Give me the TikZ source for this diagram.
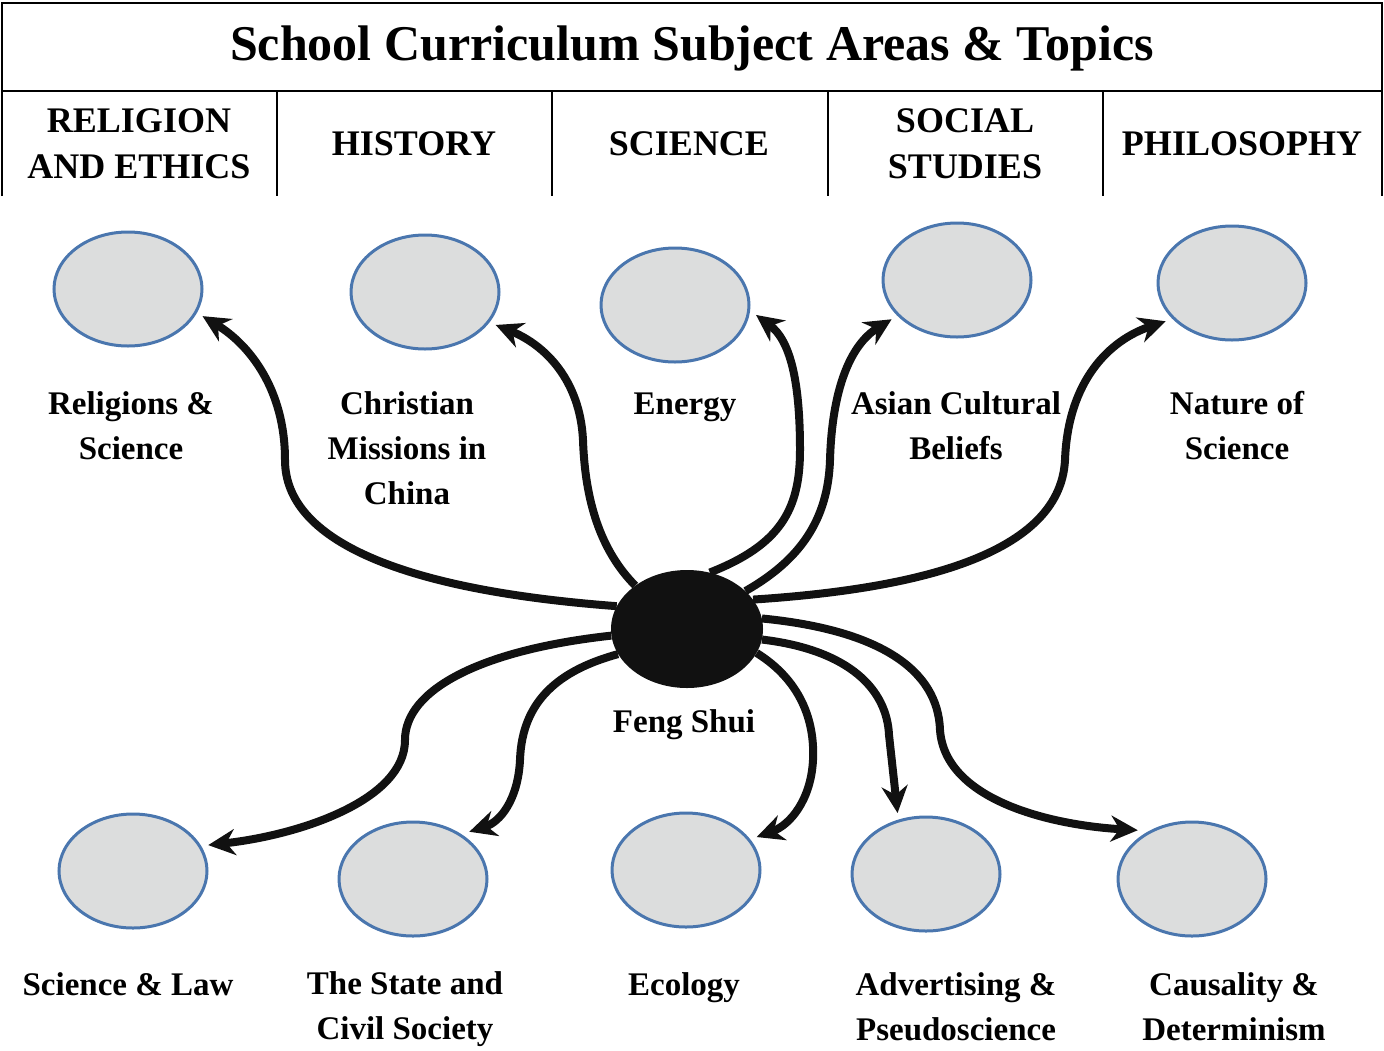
\documentclass[tikz,border=0pt]{standalone}
\usepackage{fontspec}
\setmainfont{Liberation Serif}
\usetikzlibrary{arrows.meta,shapes.geometric}
\definecolor{topicfill}{HTML}{DCDDDD}
\definecolor{topicedge}{HTML}{4A76AE}
\definecolor{hubfill}{HTML}{111111}

\begin{document}
\begin{tikzpicture}[x=1pt,y=-1pt,
	topic/.style={ellipse, draw=topicedge, fill=topicfill, line width=3pt,
		minimum width=148pt, minimum height=114pt, inner sep=0pt, outer sep=8pt},
	hub/.style={ellipse, fill=hubfill, minimum width=152pt, minimum height=118pt, inner sep=0pt},
	lbl/.style={font=\fontsize{33}{45}\selectfont\bfseries, align=center},
	subj/.style={font=\fontsize{36}{46}\selectfont\bfseries, align=center},
	link/.style={line width=8pt, draw=hubfill, -{Stealth[length=27pt,width=26pt]}}]
\useasboundingbox (0,0) rectangle (1384,1050);

% header table
\draw[line width=2pt] (2,196) -- (2,3) -- (1382,3) -- (1382,196);
\draw[line width=2pt] (2,91) -- (1382,91);
\foreach \x in {277,552,828,1103}
	\draw[line width=2pt] (\x,91) -- (\x,196);
\node[font=\fontsize{50}{60}\selectfont\bfseries] (title) at (692,48) {School Curriculum Subject Areas \& Topics};
\node[subj] (religion) at (139,144) {RELIGION\\AND ETHICS};
\node[subj] (history) at (414,144) {HISTORY};
\node[subj] (science) at (689,144) {SCIENCE};
\node[subj] (social) at (965,144) {SOCIAL\\STUDIES};
\node[subj] (philo) at (1242,144) {PHILOSOPHY};

% topics
\node[topic] (relsci) at (128,289) {};
\node[topic] (missions) at (425,292) {};
\node[topic] (energy) at (675,305) {};
\node[topic] (asian) at (957,280) {};
\node[topic] (nature) at (1232,283) {};
\node[topic] (law) at (133,871) {};
\node[topic] (state) at (413,879) {};
\node[topic] (ecology) at (686,870) {};
\node[topic] (advert) at (926,874) {};
\node[topic] (causal) at (1192,879) {};

\node[lbl] (relscil) at (131,426) {Religions \&\\Science};
\node[lbl] (missionsl) at (407,448) {Christian\\Missions in\\China};
\node[lbl] (energyl) at (685,407) {Energy};
\node[lbl] (asianl) at (956,426) {Asian Cultural\\Beliefs};
\node[lbl] (naturel) at (1237,426) {Nature of\\Science};
\node[lbl] (lawl) at (128,984) {Science \& Law};
\node[lbl] (statel) at (405,1009) {The State and\\Civil Society};
\node[lbl] (ecologyl) at (684,988) {Ecology};
\node[lbl] (advertl) at (956,1007) {Advertising \&\\Pseudoscience};
\node[lbl] (causall) at (1234,1007) {Causality \&\\Determinism};

% centre
\node[hub] (feng) at (687,629) {};
\node[lbl] (fengl) at (684,725) {Feng Shui};

% links to the top row
\draw[link] (feng.162) .. controls (400,590) and (285,540) .. (285,460)
	.. controls (285,390) and (250,345) .. (relsci.-20);
\draw[link] (feng.140) .. controls (600,550) and (585,500) .. (583,440)
	.. controls (580,380) and (545,345) .. (missions.-25);
\draw[link] (feng.68) .. controls (780,545) and (800,510) .. (800,450)
	.. controls (800,380) and (790,340) .. (energy.-7);
\draw[link] (feng.33) .. controls (800,560) and (828,520) .. (830,460)
	.. controls (832,390) and (850,345) .. (asian.-149);
\draw[link] (feng.24) .. controls (900,590) and (1060,560) .. (1065,460)
	.. controls (1068,380) and (1110,340) .. (nature.-150);
% links to the bottom row
\draw[link] (feng.-175) .. controls (480,650) and (405,690) .. (405,740)
	.. controls (405,800) and (300,835) .. (law.19);
\draw[link] (feng.-160) .. controls (560,670) and (522,700) .. (520,760)
	.. controls (518,800) and (500,822) .. (state.40);
\draw[link] (feng.-19) .. controls (800,680) and (815,720) .. (813,760)
	.. controls (811,800) and (790,825) .. (ecology.25);
\draw[link] (feng.-8) .. controls (850,650) and (887,690) .. (889,735) -- (advert.115);
\draw[link] (feng.8) .. controls (880,630) and (938,670) .. (940,730)
	.. controls (945,800) and (1050,825) .. (causal.138);
\end{tikzpicture}
\end{document}
